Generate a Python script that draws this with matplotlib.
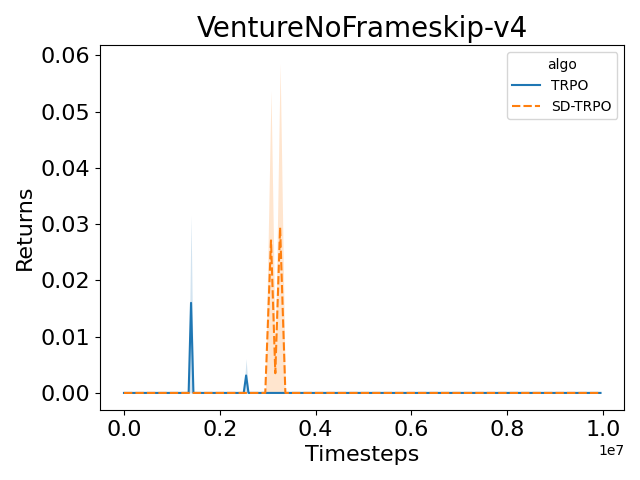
import matplotlib
matplotlib.use("Agg")
import matplotlib.pyplot as plt

# TRPO key points (timesteps, mean, upper CI)
trpo_t = [0, 1.35e6, 1.40e6, 1.45e6, 2.50e6, 2.55e6, 2.60e6, 9.95e6]
trpo_mean = [0, 0, 0.0160, 0, 0, 0.0031, 0, 0]
trpo_hi = [0, 0, 0.0316, 0, 0, 0.0061, 0, 0]
trpo_lo = [0, 0, 0, 0, 0, 0.0001, 0, 0]

# SD-TRPO key points
sd_t = [0, 2.95e6, 3.07e6, 3.16e6, 3.26e6, 3.37e6, 9.95e6]
sd_mean = [0, 0, 0.0271, 0.0035, 0.0294, 0, 0]
sd_hi = [0, 0, 0.0538, 0.0070, 0.0586, 0, 0]
sd_lo = [0, 0, 0, 0, 0, 0, 0]

fig = plt.figure(figsize=(6.4, 4.8), dpi=100)
ax = fig.add_axes([0.1565, 0.146, 0.819, 0.760])

blue = "#1f77b4"
orange = "#ff7f0e"

ax.fill_between(trpo_t, trpo_lo, trpo_hi, color=blue, alpha=0.2, linewidth=0)
ax.plot(trpo_t, trpo_mean, color=blue, linewidth=1.5, label="TRPO")
ax.fill_between(sd_t, sd_lo, sd_hi, color=orange, alpha=0.2, linewidth=0)
ax.plot(sd_t, sd_mean, color=orange, linewidth=1.5, linestyle=(0, (4, 1.5)), label="SD-TRPO")

ax.set_title("VentureNoFrameskip-v4", fontsize=20)
ax.set_xlabel("Timesteps", fontsize=16)
ax.set_ylabel("Returns", fontsize=16)
ax.tick_params(labelsize=16)
ax.xaxis.get_offset_text().set_fontsize(10)
ax.set_yticks([0, 0.01, 0.02, 0.03, 0.04, 0.05, 0.06])
ax.set_ylim(-0.00302, 0.0618)
ax.legend(title="algo", loc="upper right")

fig.savefig("out.png", dpi=100)
